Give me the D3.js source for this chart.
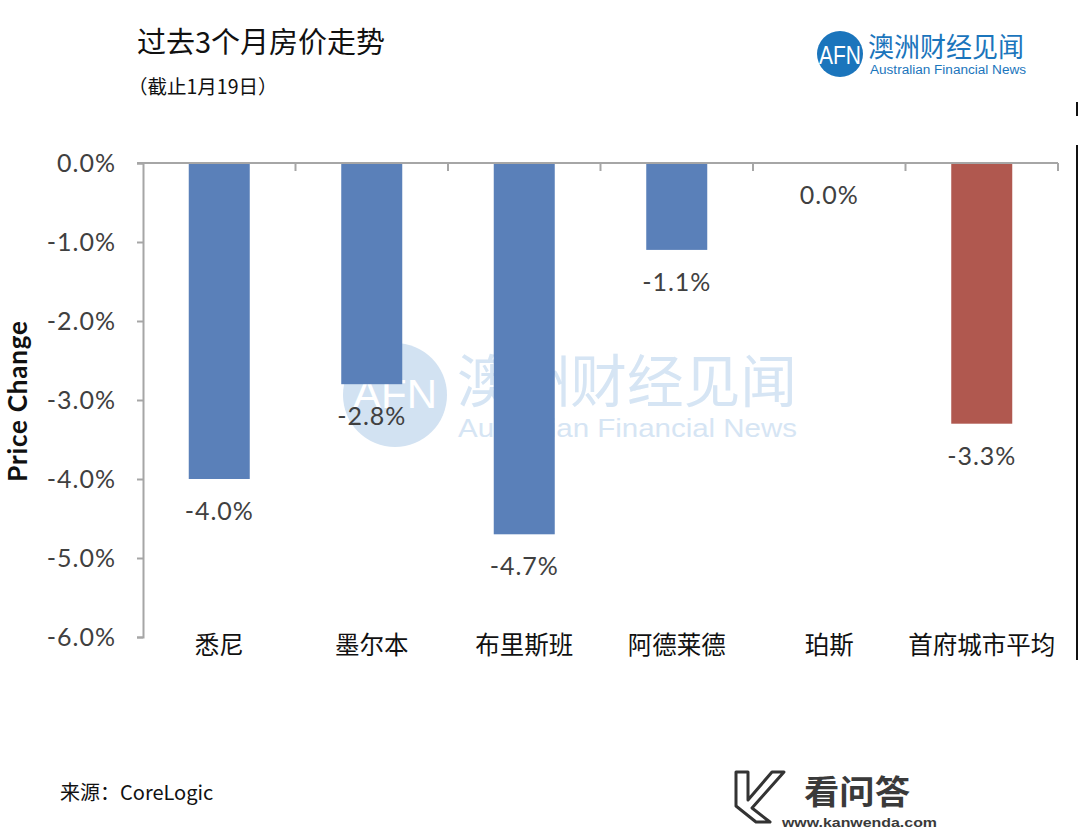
<!DOCTYPE html>
<html>
<head>
<meta charset="utf-8">
<script src="https://cdn.jsdelivr.net/npm/d3@7"></script>
<style>
  html, body { margin: 0; padding: 0; background: #ffffff; }
  svg { display: block; }
</style>
</head>
<body>
<svg id="chart" width="1080" height="832"></svg>
<script>
// ---- data ----
const categories = ["悉尼", "墨尔本", "布里斯班", "阿德莱德", "珀斯", "首府城市平均"];
const values = [-4.0, -2.8, -4.7, -1.1, 0.0, -3.3];
const yTickValues = [0, -1, -2, -3, -4, -5, -6];
const titleText = "过去3个月房价走势";
const subtitleText = "（截止1月19日）";
const yAxisTitle = "Price Change";
const sourceText = "来源：CoreLogic";
const brandCN = "澳洲财经见闻";
const brandEN = "Australian Financial News";

(function () {
const svg = d3.select("#chart");
const CJK = "'Noto Sans CJK SC', 'Noto Sans', sans-serif";
const LAT = "Lato, 'Open Sans', sans-serif";
const blue = "#5a80b9";
const red = "#b0584f";
const brand = "#1b75bc";

const pLeft = 143, pRight = 1058, pTop = 163, pBottom = 637;

const x = d3.scaleBand().domain(categories).range([pLeft, pRight]).paddingInner(0.6).paddingOuter(0.3);
const y = d3.scaleLinear().domain([-6, 0]).range([pBottom, pTop]);

// ---- watermark (behind bars) ----
const wm = svg.append("g");
wm.append("circle").attr("cx", 395).attr("cy", 395).attr("r", 52).attr("fill", "#d2e2f2");
wm.append("text").attr("x", 395).attr("y", 408).attr("text-anchor", "middle")
  .attr("font-family", "Arial, 'Liberation Sans', sans-serif").attr("font-size", 40)
  .attr("fill", "#ffffff").attr("textLength", 84).attr("lengthAdjust", "spacingAndGlyphs").text("AFN");
wm.append("text").attr("x", 457).attr("y", 402).attr("font-family", CJK).attr("font-size", 57)
  .attr("fill", "#d6e5f4").attr("textLength", 340).attr("lengthAdjust", "spacingAndGlyphs").text(brandCN);
wm.append("text").attr("x", 458).attr("y", 437).attr("font-family", "Arial, 'Liberation Sans', sans-serif").attr("font-size", 25)
  .attr("fill", "#d6e5f4").attr("textLength", 339).attr("lengthAdjust", "spacingAndGlyphs").text(brandEN);

// ---- bars ----
svg.append("g").selectAll("rect").data(categories).join("rect")
  .attr("x", d => x(d))
  .attr("y", (d, i) => y(Math.max(0, values[i])))
  .attr("width", x.bandwidth())
  .attr("height", (d, i) => Math.abs(y(values[i]) - y(0)))
  .attr("fill", (d, i) => i === categories.length - 1 ? red : blue);

// ---- y axis ----
const yAxis = svg.append("g").attr("transform", `translate(${pLeft},0)`)
  .call(d3.axisLeft(y).tickValues(yTickValues).tickSize(6).tickPadding(21)
    .tickFormat(d => d.toFixed(1) + "%"));
yAxis.select(".domain").attr("stroke", "#a6a6a6").attr("stroke-width", 2);
yAxis.selectAll(".tick line").attr("stroke", "#a6a6a6").attr("stroke-width", 2);
yAxis.selectAll(".tick text").attr("font-family", LAT).attr("font-size", 25)
  .attr("letter-spacing", "1px").attr("fill", "#404040");

// ---- x axis at zero with boundary ticks ----
const xg = svg.append("g");
xg.append("line").attr("x1", pLeft - 6).attr("x2", pRight).attr("y1", y(0)).attr("y2", y(0))
  .attr("stroke", "#a6a6a6").attr("stroke-width", 2);
xg.selectAll("line.bt").data(categories).join("line").attr("class", "bt")
  .attr("x1", d => x(d) + x.bandwidth() + x.step() * x.paddingInner() / 2)
  .attr("x2", d => x(d) + x.bandwidth() + x.step() * x.paddingInner() / 2)
  .attr("y1", y(0)).attr("y2", y(0) + 8)
  .attr("stroke", "#a6a6a6").attr("stroke-width", 2);

// ---- data labels ----
svg.append("g").selectAll("text").data(categories).join("text")
  .attr("x", d => x(d) + x.bandwidth() / 2)
  .attr("y", (d, i) => y(values[i]) + 41)
  .attr("text-anchor", "middle")
  .attr("font-family", LAT).attr("font-size", 25).attr("letter-spacing", "1px").attr("fill", "#404040")
  .text((d, i) => values[i].toFixed(1) + "%");

// ---- category labels ----
svg.append("g").selectAll("text").data(categories).join("text")
  .attr("x", d => x(d) + x.bandwidth() / 2)
  .attr("y", 654)
  .attr("text-anchor", "middle")
  .attr("font-family", CJK).attr("font-size", 24.5).attr("fill", "#111111")
  .text(d => d);

// ---- y axis title ----
svg.append("text").attr("transform", "translate(27,401) rotate(-90)")
  .attr("text-anchor", "middle").attr("font-family", LAT).attr("font-weight", "bold")
  .attr("font-size", 26).attr("letter-spacing", "0.8px").attr("fill", "#111111").text(yAxisTitle);

// ---- title ----
svg.append("text").attr("x", 137).attr("y", 53).attr("font-family", CJK).attr("font-size", 29)
  .attr("fill", "#111111").text(titleText);
svg.append("text").attr("x", 128).attr("y", 94).attr("font-family", CJK).attr("font-size", 19.5)
  .attr("fill", "#111111").text(subtitleText);

// ---- top logo ----
const lg = svg.append("g");
lg.append("circle").attr("cx", 840).attr("cy", 54).attr("r", 23).attr("fill", brand);
lg.append("text").attr("x", 840).attr("y", 64).attr("text-anchor", "middle")
  .attr("font-family", "Arial, 'Liberation Sans', sans-serif").attr("font-size", 26)
  .attr("fill", "#ffffff").attr("textLength", 42).attr("lengthAdjust", "spacingAndGlyphs").text("AFN");
lg.append("text").attr("x", 868).attr("y", 57).attr("font-family", CJK).attr("font-size", 27)
  .attr("fill", brand).attr("textLength", 156).attr("lengthAdjust", "spacingAndGlyphs").text(brandCN);
lg.append("text").attr("x", 870).attr("y", 74).attr("font-family", "Arial, 'Liberation Sans', sans-serif").attr("font-size", 12.5)
  .attr("fill", brand).attr("textLength", 156).attr("lengthAdjust", "spacingAndGlyphs").text(brandEN);

// ---- right edge artifacts ----
svg.append("rect").attr("x", 1076).attr("y", 102).attr("width", 2).attr("height", 14).attr("fill", "#111");
svg.append("rect").attr("x", 1076).attr("y", 145).attr("width", 2).attr("height", 515).attr("fill", "#111");

// ---- source ----
svg.append("text").attr("x", 60).attr("y", 800).attr("font-family", CJK).attr("font-size", 20)
  .attr("fill", "#111111").text(sourceText);

// ---- kanwenda logo ----
const kw = svg.append("g");
kw.append("path")
  .attr("d", "M736,772 L748,772 L748,800 L772,772 L784,772 L752,808 L770,822 L756,822 L736,806 Z")
  .attr("fill", "#ffffff").attr("stroke", "#333333").attr("stroke-width", 3).attr("stroke-linejoin", "round");
kw.append("text").attr("x", 804).attr("y", 804).attr("font-family", CJK).attr("font-weight", "bold")
  .attr("font-size", 33).attr("fill", "#3a3a3a").attr("textLength", 106).attr("lengthAdjust", "spacingAndGlyphs").text("看问答");
kw.append("text").attr("x", 782).attr("y", 827).attr("font-family", "Arial, 'Liberation Sans', sans-serif").attr("font-weight", "bold")
  .attr("font-size", 13).attr("fill", "#3a3a3a").attr("textLength", 155).attr("lengthAdjust", "spacingAndGlyphs").text("www.kanwenda.com");
})();
</script>
</body>
</html>
